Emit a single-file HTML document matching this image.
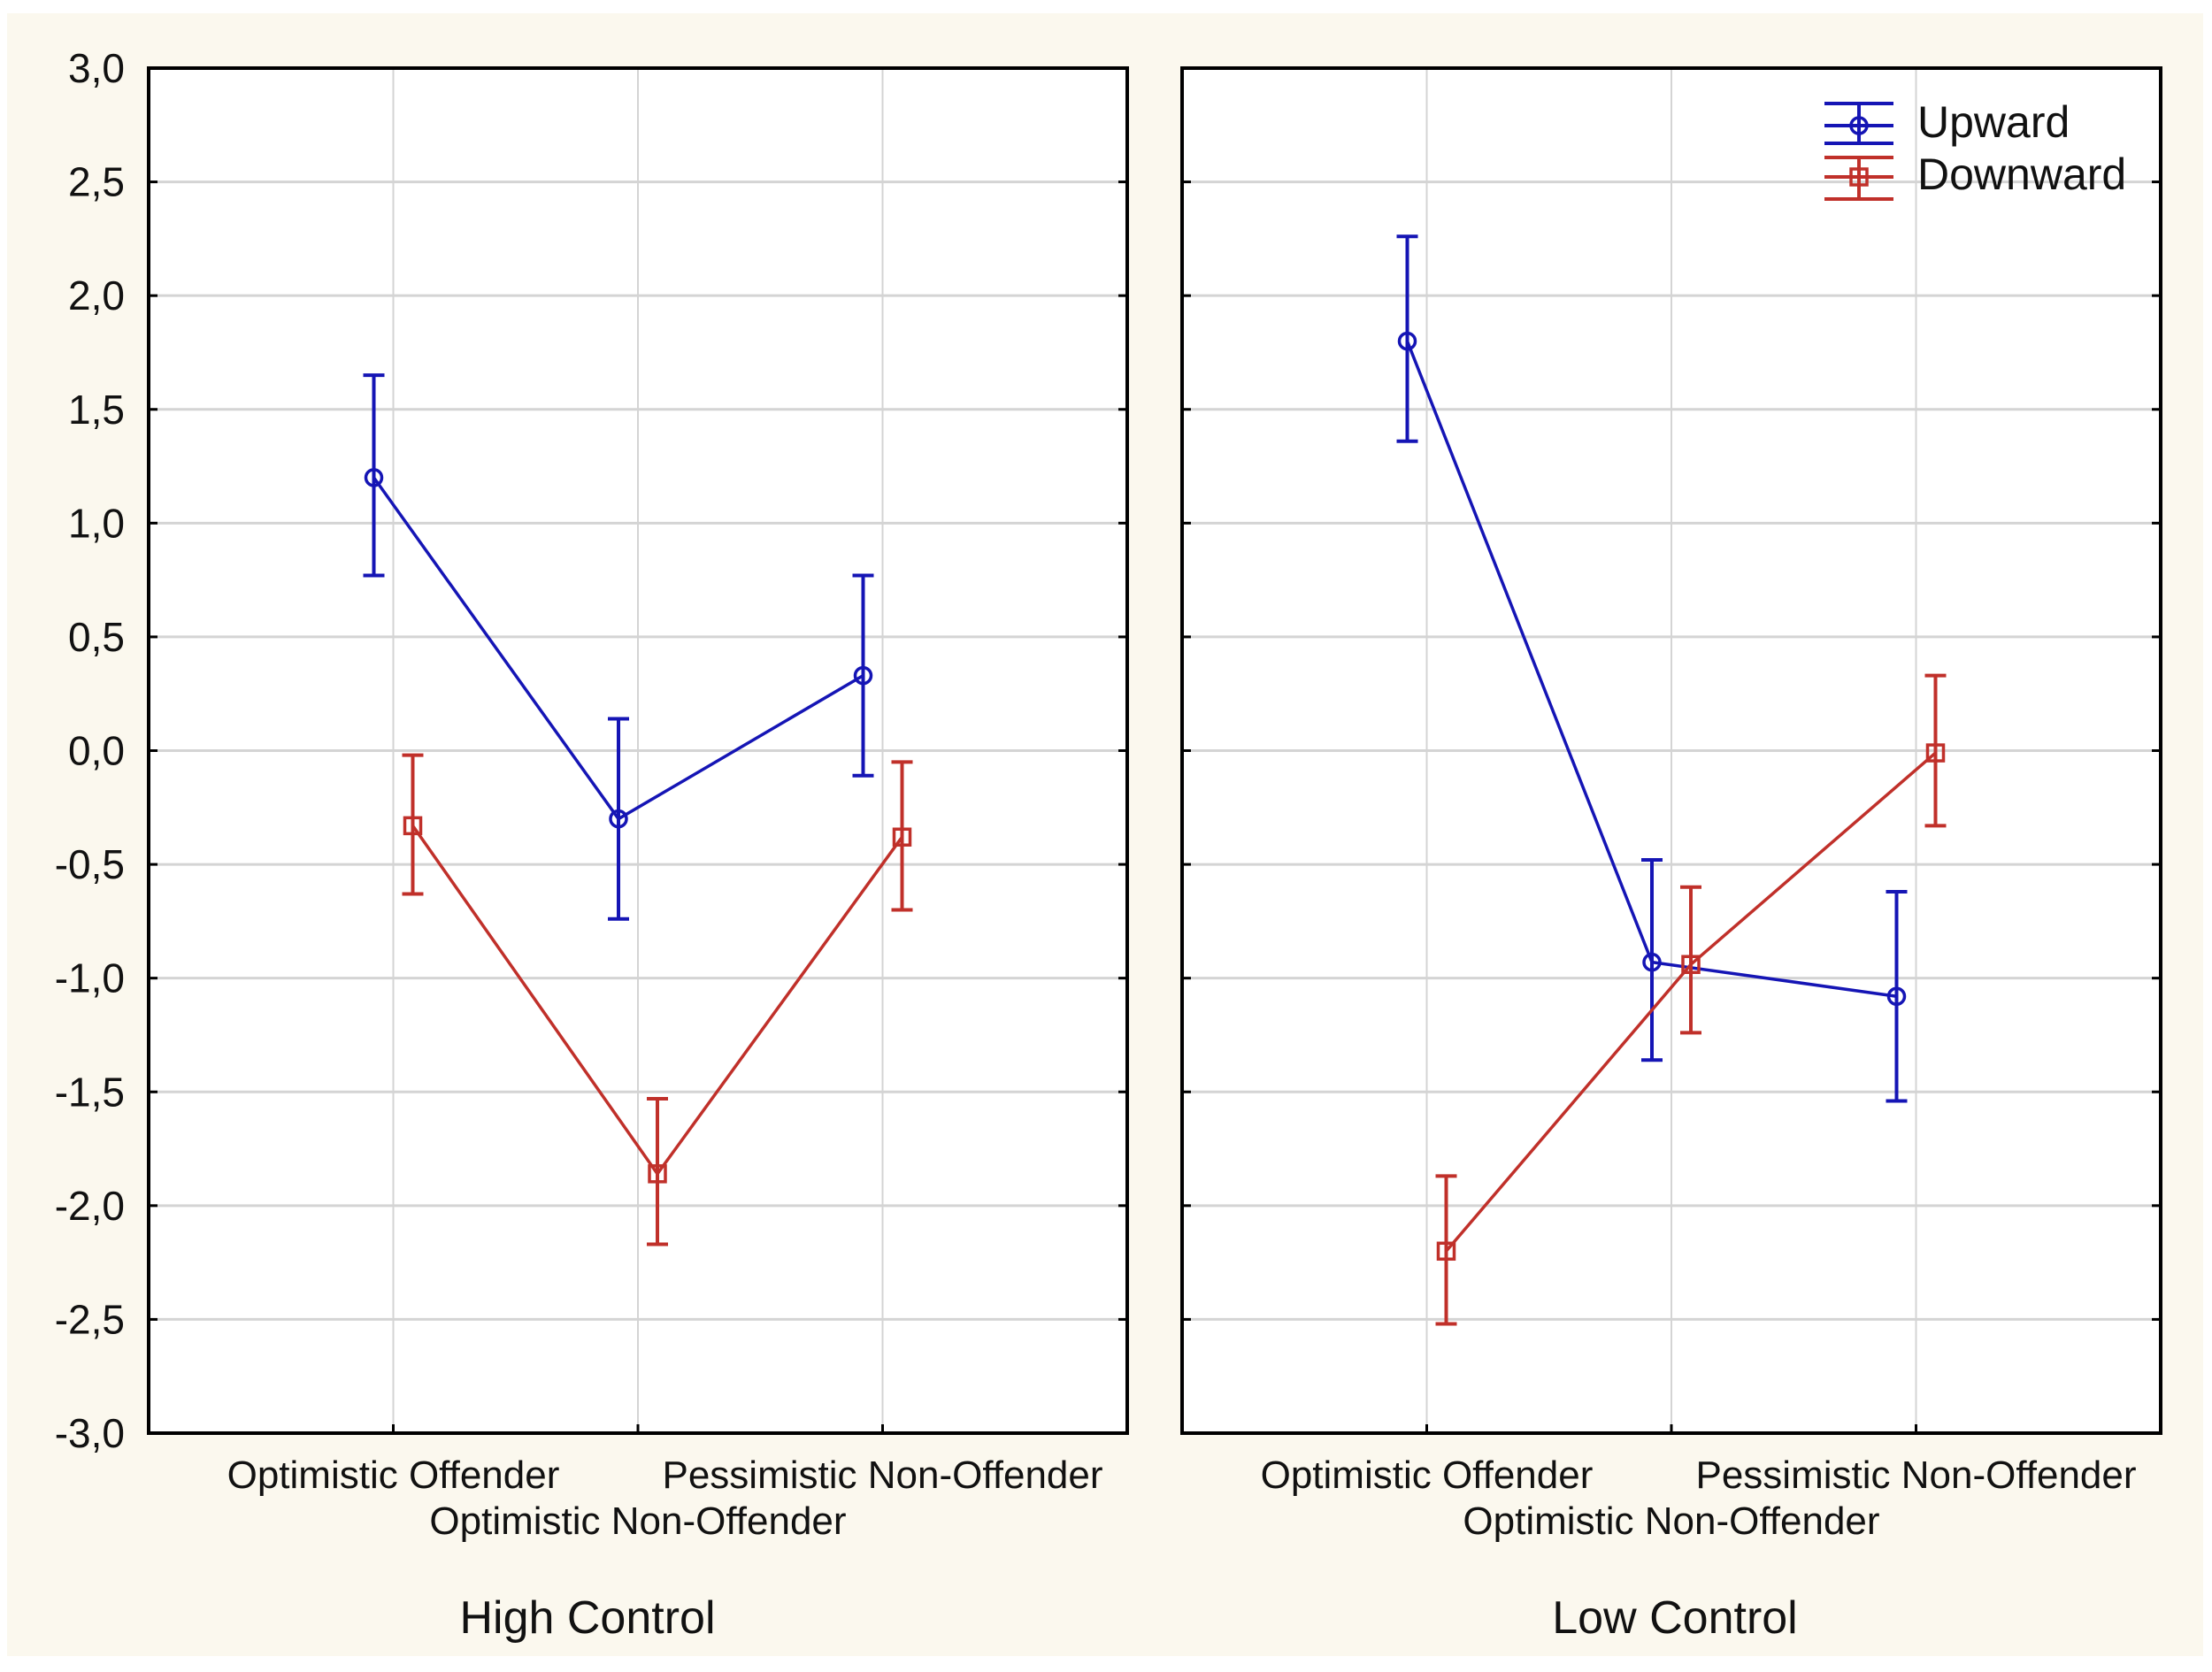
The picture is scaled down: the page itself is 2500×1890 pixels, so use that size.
<!DOCTYPE html>
<html><head><meta charset="utf-8"><style>
html,body{margin:0;padding:0;background:#fff;}
svg{display:block;font-family:"Liberation Sans",Arial,sans-serif;}
</style></head><body>
<svg id="chart" width="2500" height="1890" viewBox="0 0 2500 1890" xmlns="http://www.w3.org/2000/svg">
<rect x="8" y="15" width="2482" height="1857" fill="#fbf8ee"/>
<g id="layer"></g>
</svg>
<script>
const categories = ["Optimistic Offender","Optimistic Non-Offender","Pessimistic Non-Offender"];
const panels = ["High Control","Low Control"];
const yTicks = [3,2.5,2,1.5,1,0.5,0,-0.5,-1,-1.5,-2,-2.5,-3];
const yTickLabels = ["3,0","2,5","2,0","1,5","1,0","0,5","0,0","-0,5","-1,0","-1,5","-2,0","-2,5","-3,0"];
const upwardHigh = [1.2,-0.3,0.33];
const upwardHighHi = [1.65,0.14,0.77];
const upwardHighLo = [0.77,-0.74,-0.11];
const downwardHigh = [-0.33,-1.86,-0.38];
const downwardHighHi = [-0.02,-1.53,-0.05];
const downwardHighLo = [-0.63,-2.17,-0.70];
const upwardLow = [1.8,-0.93,-1.08];
const upwardLowHi = [2.26,-0.48,-0.62];
const upwardLowLo = [1.36,-1.36,-1.54];
const downwardLow = [-2.2,-0.94,-0.01];
const downwardLowHi = [-1.87,-0.60,0.33];
const downwardLowLo = [-2.52,-1.24,-0.33];

const NS="http://www.w3.org/2000/svg";
const layer=document.getElementById('layer');
function mk(tag,attrs,parent){const e=document.createElementNS(NS,tag);for(const k in attrs)e.setAttribute(k,attrs[k]);(parent||layer).appendChild(e);return e;}
const plotTop=77,plotBottom=1620,ymin=-3,ymax=3;
function yS(v){return plotTop+(ymax-v)/(ymax-ymin)*(plotBottom-plotTop);}
const panelX=[168,1336],panelW=1106;
const titleX=[664,1893];
function xS(p,i){return panelX[p]+panelW*(i+1)/4;}

yTicks.forEach((t,i)=>{
  const tx=mk('text',{x:141,y:yS(t)+16,'text-anchor':'end','font-size':46,fill:'#111'});
  
  
  tx.textContent=yTickLabels[i];
});

const series=[
 {name:'upward',color:'#1515b5',off:-22,marker:'circle',data:[[upwardHigh,upwardHighHi,upwardHighLo],[upwardLow,upwardLowHi,upwardLowLo]]},
 {name:'downward',color:'#c0302a',off:22,marker:'square',data:[[downwardHigh,downwardHighHi,downwardHighLo],[downwardLow,downwardLowHi,downwardLowLo]]}
];

panels.forEach((pn,p)=>{
  const g=mk('g',{});
  
  
  const bg=mk('rect',{x:panelX[p],y:plotTop,width:panelW,height:plotBottom-plotTop,fill:'#fff'},g);
  
  
  yTicks.forEach(t=>{
    const l=mk('line',{x1:panelX[p],x2:panelX[p]+panelW,y1:yS(t),y2:yS(t),stroke:'#d4d4d4','stroke-width':3},g);
    
    
    const a=mk('line',{x1:panelX[p],x2:panelX[p]+10,y1:yS(t),y2:yS(t),stroke:'#000','stroke-width':3},g);
    
    
    const b=mk('line',{x1:panelX[p]+panelW-10,x2:panelX[p]+panelW,y1:yS(t),y2:yS(t),stroke:'#000','stroke-width':3},g);
    
    
  });
  categories.forEach((c,i)=>{
    const l=mk('line',{x1:xS(p,i),x2:xS(p,i),y1:plotTop,y2:plotBottom,stroke:'#d4d4d4','stroke-width':2},g);
    
    
    const tk=mk('line',{x1:xS(p,i),x2:xS(p,i),y1:plotBottom-10,y2:plotBottom,stroke:'#000','stroke-width':3},g);
    
    
    const ty=(i===1)?1734:1682;
    const t=mk('text',{x:xS(p,i),y:ty,'text-anchor':'middle','font-size':44,fill:'#111'},g);
    
    
    t.textContent=c;
  });
  const fr=mk('rect',{x:panelX[p],y:plotTop,width:panelW,height:plotBottom-plotTop,fill:'none',stroke:'#000','stroke-width':4},g);
  
  
  const tt=mk('text',{x:titleX[p],y:1846,'text-anchor':'middle','font-size':52,fill:'#111'},g);
  
  
  tt.textContent=pn;

  series.forEach(s=>{
    const [mean,hi,lo]=s.data[p];
    const pts=mean.map((v,i)=>(xS(p,i)+s.off)+','+yS(v)).join(' ');
    const pl=mk('polyline',{points:pts,fill:'none',stroke:s.color,'stroke-width':3.5},g);
    
    
    mean.forEach((v,i)=>{
      const x=xS(p,i)+s.off;
      const eb=mk('path',{d:`M${x},${yS(hi[i])}V${yS(lo[i])}M${x-12},${yS(hi[i])}H${x+12}M${x-12},${yS(lo[i])}H${x+12}`,stroke:s.color,'stroke-width':4,fill:'none'},g);
      
      
      let m;
      if(s.marker==='circle') m=mk('circle',{cx:x,cy:yS(v),r:9,fill:'none',stroke:s.color,'stroke-width':3.5},g);
      else m=mk('rect',{x:x-9,y:yS(v)-9,width:18,height:18,fill:'none',stroke:s.color,'stroke-width':3.5},g);
      
      
    });
  });
});

const lg=mk('g',{});


[[series[0],117,142,162,'Upward',155],[series[1],178,200,225,'Downward',214]].forEach(([s,a,m,b,label,ty])=>{
  const e=mk('g',{},lg);
  
  
  mk('path',{d:`M2062,${a}H2140M2062,${m}H2140M2062,${b}H2140M2101,${a}V${b}`,stroke:s.color,'stroke-width':4,fill:'none'},e);
  if(s.marker==='circle') mk('circle',{cx:2101,cy:m,r:9,fill:'none',stroke:s.color,'stroke-width':3.5},e);
  else mk('rect',{x:2092,y:m-9,width:18,height:18,fill:'none',stroke:s.color,'stroke-width':3.5},e);
  const t=mk('text',{x:2167,y:ty,'font-size':50,fill:'#111'},e);
  t.textContent=label;
});
</script>
</body></html>
